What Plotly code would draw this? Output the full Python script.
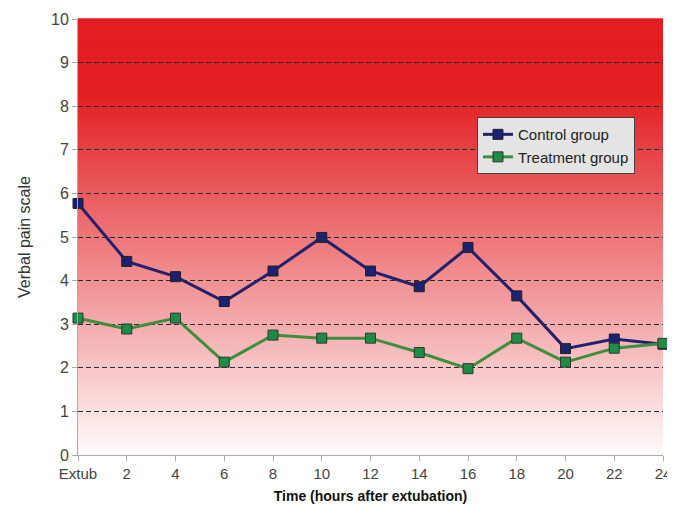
import plotly.graph_objects as go

hours = [0, 2, 4, 6, 8, 10, 12, 14, 16, 18, 20, 22, 24]
tick_labels = ["Extub", "2", "4", "6", "8", "10", "12", "14", "16", "18", "20", "22", "24"]
control = [5.77, 4.44, 4.09, 3.52, 4.22, 4.99, 4.22, 3.86, 4.76, 3.65, 2.44, 2.66, 2.54]
treatment = [3.14, 2.89, 3.14, 2.13, 2.75, 2.68, 2.68, 2.35, 1.98, 2.68, 2.13, 2.45, 2.56]

fig = go.Figure()

# gradient background (red top -> white bottom)
red = (226, 30, 34)
n = 100
shapes = []
for i in range(n):
    y0 = i / n
    y1 = (i + 1) / n
    v = (y0 + y1) / 2 * 10
    f = max(0.0, min(1.0, (8.3 - v) / 8.3 * 0.98))
    c = tuple(int(round(red[k] + (255 - red[k]) * f)) for k in range(3))
    shapes.append(dict(type="rect", xref="x domain", yref="y domain",
                       x0=0, x1=1, y0=y0, y1=y1 + 0.002, layer="below",
                       line=dict(width=0), fillcolor="rgb(%d,%d,%d)" % c))

fig.add_trace(go.Scatter(
    x=hours, y=control, name="Control group", mode="lines+markers",
    line=dict(color="#23206e", width=3),
    marker=dict(symbol="square", size=10, color="#1b2173",
                line=dict(color="#222222", width=1)),
    cliponaxis=False))
fig.add_trace(go.Scatter(
    x=hours, y=treatment, name="Treatment group", mode="lines+markers",
    line=dict(color="#3d8f3d", width=3),
    marker=dict(symbol="square", size=10, color="#1f8c46",
                line=dict(color="#333333", width=1)),
    cliponaxis=False))

fig.update_layout(
    width=667, height=498,
    margin=dict(l=70, r=12, t=11, b=51, autoexpand=False),
    paper_bgcolor="white",
    plot_bgcolor="white",
    shapes=shapes,
    font=dict(family="Liberation Sans, Arial, sans-serif", size=14, color="#444"),
    showlegend=True,
    legend=dict(x=0.682, y=0.775, xanchor="left", yanchor="top",
                bgcolor="#e4e4e4", bordercolor="#444", borderwidth=1,
                font=dict(size=15, color="#222"), tracegroupgap=0),
    xaxis=dict(range=[0, 24], tickvals=hours, ticktext=tick_labels,
               showgrid=False, zeroline=False, showline=True, automargin=False,
               linecolor="#b0a8a8", linewidth=1, ticks="outside",
               ticklen=5, tickcolor="#b0a8a8",
               tickfont=dict(size=15, color="#444"),
               title=dict(text="<b>Time (hours after extubation)</b>",
                          font=dict(size=14, color="#111"), standoff=10),
               mirror=False),
    yaxis=dict(range=[0, 10], dtick=1, showgrid=True, gridcolor="#2a2a2a",
               griddash="5px,3px", gridwidth=1, zeroline=False, automargin=False,
               showline=True, linecolor="#b0a8a8", linewidth=1,
               ticks="outside", ticklen=5, tickcolor="#b0a8a8",
               tickfont=dict(size=16, color="#444"),
               title=dict(text="Verbal pain scale",
                          font=dict(size=16, color="#333"), standoff=16)),
)

fig.write_html("out.html")
